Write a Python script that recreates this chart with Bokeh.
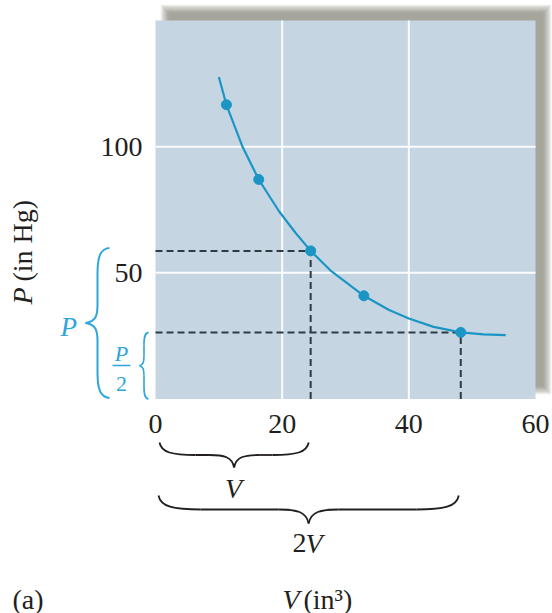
import numpy as np
from bokeh.plotting import figure
from bokeh.models import Range1d, FixedTicker
from bokeh.core.properties import value
from bokeh.embed import file_html
from bokeh.resources import INLINE

# ---------------- data ----------------
curve_v = [10.0, 11.2, 13.7, 16.3, 19.5, 22.1, 24.5, 27.6, 32.9, 36.8, 40.0, 43.9, 48.2, 51.8, 55.3]
curve_p = [127.6, 116.6, 100.2, 87.0, 74.4, 65.9, 58.7, 51.0, 40.9, 35.4, 31.9, 28.6, 26.4, 25.6, 25.3]
point_v = [11.2, 16.3, 24.5, 32.9, 48.2]
point_p = [116.6, 87.0, 58.7, 40.9, 26.4]
x_ticks = [0, 20, 40, 60]
y_ticks = [50, 100]
x_grid = [20, 40]
y_grid = [50, 100]
v_max = 60
p_max = 150

# ---------------- layout helpers (pixel <-> data) ----------------
W, H = 552, 613
SX0, SXK = 155.0, 380.0 / v_max
SY0, SYK = 398.5, 378.5 / p_max
BL = 8.5  # correction for where the text baseline lands


def X(px):
    return (px - SX0) / SXK


def Y(py):
    return (SY0 - py) / SYK


def sx(v):
    return SX0 + v * SXK


def sy(p):
    return SY0 - p * SYK


SERIF = value("Liberation Serif")
INK = "#231f20"
BLUE = "#2ea6da"
CURVE = "#1b95c4"

p = figure(width=W, height=H, x_range=Range1d(X(0), X(W)), y_range=Range1d(Y(H), Y(0)),
           output_backend="svg", toolbar_location=None, min_border=0)
p.outline_line_color = None
p.background_fill_color = "white"
p.border_fill_color = "white"
p.xgrid.visible = False
p.ygrid.visible = False

# ---------------- axes (fixed inside the frame) ----------------
xa = p.xaxis[0]
xa.fixed_location = 0
xa.ticker = FixedTicker(ticks=x_ticks)
ya = p.yaxis[0]
ya.fixed_location = 0
ya.ticker = FixedTicker(ticks=y_ticks)
for ax in (xa, ya):
    ax.axis_line_color = None
    ax.major_tick_line_color = None
    ax.minor_tick_line_color = None
    ax.major_tick_out = 0
    ax.major_tick_in = 0
    ax.major_label_text_font = "Liberation Serif"
    ax.major_label_text_font_size = "28px"
    ax.major_label_text_color = INK
xa.major_label_standoff = 16
ya.major_label_standoff = 13

# ---------------- shadow ----------------
for i in range(7):
    e = i * 1.3
    p.quad(left=X(168 - e), right=X(543 + e), top=Y(12 - e), bottom=Y(386 + e),
           fill_color="#6c6c5c", fill_alpha=0.12, line_color=None)

# ---------------- panel ----------------
p.quad(left=0, right=v_max, bottom=0, top=p_max, fill_color="#c5d6e2", line_color=None)

# ---------------- grid ----------------
p.segment(x0=x_grid, y0=[0] * len(x_grid), x1=x_grid, y1=[p_max] * len(x_grid),
          line_color="white", line_width=2, line_alpha=0.9)
p.segment(x0=[0] * len(y_grid), y0=y_grid, x1=[v_max] * len(y_grid), y1=y_grid,
          line_color="white", line_width=2, line_alpha=0.9)

# ---------------- dashed guides ----------------
gv = [point_v[2], point_v[4]]
gp = [point_p[2], point_p[4]]
p.segment(x0=[0, 0], y0=gp, x1=gv, y1=gp, line_color="#2f3a43", line_width=2, line_dash="7 4")
p.segment(x0=gv, y0=[0, 0], x1=gv, y1=gp, line_color="#2f3a43", line_width=2, line_dash="7 4")

# ---------------- curve and points ----------------
p.line(curve_v, curve_p, line_color=CURVE, line_width=2.2, line_join="round")
p.scatter(point_v, point_p, size=10, fill_color=CURVE, line_color=CURVE)


# ---------------- braces ----------------
def brace(ua, ub, w0, d, a, b, vertical):
    h = d / 2.0
    um = (ua + ub) / 2.0
    segs = []
    for sgn, uend in ((1, ua), (-1, ub)):
        def U(k):
            return uend + sgn * k
        half = abs(um - uend)
        aa = min(a, half * 0.5)
        bb = min(b, half * 0.5)
        segs.append(((U(0), w0), (U(aa), w0 + h), (U(0.05 * aa), w0 + 0.8 * h), (U(0.35 * aa), w0 + h)))
        segs.append(((U(aa), w0 + h), (U(half - bb), w0 + h), (U(aa), w0 + h), (U(half - bb), w0 + h)))
        segs.append(((U(half - bb), w0 + h), (um, w0 + 2 * h), (U(half - 0.4 * bb), w0 + h), (um - sgn * 0.08 * bb, w0 + 1.15 * h)))
    out = {k: [] for k in ("x0", "y0", "x1", "y1", "cx0", "cy0", "cx1", "cy1")}
    for s in segs:
        pts = []
        for (u, w) in s:
            if vertical:
                pts.append((X(w), Y(u)))
            else:
                pts.append((X(u), Y(w)))
        for key, pt in zip((("x0", "y0"), ("x1", "y1"), ("cx0", "cy0"), ("cx1", "cy1")), pts):
            out[key[0]].append(pt[0])
            out[key[1]].append(pt[1])
    return out


b1 = brace(sy(point_p[2]) - 3, sy(0) - 1, 109, -24, 26, 18, True)
p.bezier(**b1, line_color=BLUE, line_width=2)
b2 = brace(sy(point_p[4]), sy(0), 148, -9, 12, 10, True)
p.bezier(**b2, line_color=BLUE, line_width=1.6)
b3 = brace(sx(0) + 4, sx(point_v[2]) - 2, 442, 25, 36, 25, False)
p.bezier(**b3, line_color=INK, line_width=1.8)
b4 = brace(sx(0) + 3, sx(point_v[4]) - 2, 495, 28, 42, 30, False)
p.bezier(**b4, line_color=INK, line_width=1.8)


# ---------------- texts ----------------
def txt(px, py, s, size="28px", style="normal", color=INK, align="left", angle=0):
    if angle:
        px = px - BL - 1.5
    else:
        py = py - BL
    p.text(x=[X(px)], y=[Y(py)], text=[s], text_font=SERIF, text_font_size=size,
           text_font_style=style, text_color=color, text_align=align,
           text_baseline="alphabetic", angle=angle)


# y axis title (rotated)
txt(32, 304, "P", style="italic", angle=np.pi / 2)
txt(32, 281, "(in Hg)", angle=np.pi / 2)

# blue brace labels
txt(60, 335, "P", size="27px", style="italic", color=BLUE)
txt(121, 361.5, "P", size="22px", style="italic", color=BLUE, align="center")
p.segment(x0=[X(112)], y0=[Y(365)], x1=[X(130)], y1=[Y(365)], line_color=BLUE, line_width=1.5)
txt(121, 391.5, "2", size="22px", color=BLUE, align="center")

# bottom brace labels
txt(233, 496, "V", style="italic", align="center")
txt(306, 551, "2", align="right")
txt(305, 551, "V", style="italic")

# x axis title
txt(282, 607, "V", style="italic")
txt(303, 607, "(in\u00b3)")

# panel tag
txt(12, 607, "(a)")

open("out.html", "w").write(file_html(p, INLINE))
